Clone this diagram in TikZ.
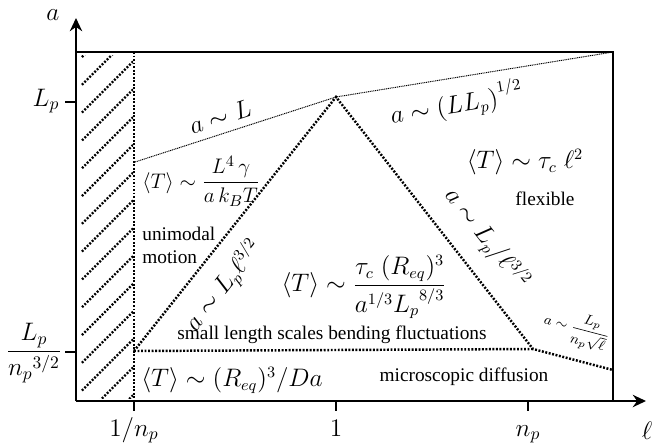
\documentclass[tikz,border=0pt]{standalone}
\usepackage{amsmath, amssymb}
\usepackage{fontspec}
\setmainfont{Liberation Serif}
\usetikzlibrary{positioning, arrows.meta}

\tikzset{
  axisline/.style={line width=1.4pt, -{Stealth[length=7.5pt, width=7pt]}},
  frameline/.style={line width=1.3pt},
  bigdots/.style={line width=1.4pt, dash pattern=on 1.1pt off 0.9pt},
  finedots/.style={line width=0.55pt, dash pattern=on 0.6pt off 0.45pt},
  ticklbl/.style={font=\fontsize{14}{16}\selectfont},
  eq/.style={font=\fontsize{13.5}{15}\selectfont},
  smalleq/.style={font=\fontsize{8.5}{10}\selectfont, inner sep=1pt},
  txt/.style={font=\fontsize{11}{13}\selectfont},
}

\begin{document}
\begin{tikzpicture}[x=0.02cm, y=-0.02cm]
  \useasboundingbox (0,0) rectangle (654,444);

  % Corners and break points (pixel grid, y downwards)
  \coordinate (O) at (76,401);
  \coordinate (ytop) at (76,18);
  \coordinate (xend) at (646,401);
  \coordinate (TL) at (76,52);
  \coordinate (TR) at (613,52);
  \coordinate (BR) at (613,401);
  \coordinate (npT) at (134,52);
  \coordinate (npB) at (134,401);
  \coordinate (peak) at (336,97);
  \coordinate (thinL) at (135,162);
  \coordinate (baseL) at (134,351);
  \coordinate (baseR) at (533,349);
  \coordinate (tailR) at (613,370);

  % Hatched strip left of 1/n_p
  \begin{scope}
    \clip (81,55) rectangle (133,398);
    \foreach \c in {0,...,14}
      \draw[bigdots, line width=1.3pt] (82,57+27.8*\c) -- ++(52,-52);
  \end{scope}

  % Axes and box
  \draw[axisline] (O) -- (ytop);
  \draw[axisline] (O) -- (xend);
  \node[ticklbl] (alab) at (53,15) {$a$};
  \node[ticklbl] (llab) at (647,431) {$\ell$};
  \draw[frameline] (TL) -- (TR) -- (BR);
  \draw[bigdots] (npT) -- (npB);

  % Ticks
  \draw[frameline] (76,102) -- (65,102);
  \draw[frameline] (76,352) -- (65,352);
  \draw[frameline] (134,401) -- (134,411);
  \draw[frameline] (336,401) -- (336,411);
  \draw[frameline] (528,401) -- (528,411);
  \node[ticklbl] (lp) at (46,101) {$L_p$};
  \node[ticklbl] (lpnp) at (34,353) {$\dfrac{L_p}{{n_p}^{3/2}}$};
  \node[ticklbl, anchor=base] (inp) at (134,436) {$1/n_p$};
  \node[ticklbl, anchor=base] (one) at (336,436) {$1$};
  \node[ticklbl, anchor=base] (np) at (528,436) {$n_p$};

  % Regime boundaries
  \draw[finedots] (thinL) -- node[eq, above=1pt, sloped, pos=0.45] (aL) {$a\sim L$}
    (peak) -- node[eq, below=2pt, sloped, pos=0.42] (aLLp) {$a\sim \left(LL_p\right)^{1/2}$} (TR);
  \draw[bigdots] (baseL) -- node[eq, below=5pt, sloped, pos=0.33] (aleft) {$a\sim L_p\ell^{3/2}$}
    (peak) -- node[eq, above=6pt, sloped, pos=0.64] (aright) {$a\sim L_p/\ell^{3/2}$}
    (baseR) -- node[smalleq, above=5pt, sloped, pos=0.45] (atail) {$a\sim \dfrac{L_p}{n_p\sqrt{\ell}}$} (tailR);
  \draw[bigdots] (baseL) -- (baseR);

  % Regime labels
  \node[eq, font=\fontsize{13}{14}\selectfont, anchor=west, inner sep=0pt] (Tstiff) at (142,181) {$\langle T\rangle \sim \dfrac{L^4\,\gamma}{a\,k_BT}$};
  \node[txt, align=left, anchor=west, inner sep=0pt] (uni) at (142,245) {unimodal\\motion};
  \node[eq] (Tmid) at (364,287) {$\langle T\rangle \sim \dfrac{\tau_c\;(R_{eq})^3}{a^{1/3}{L_p}^{8/3}}$};
  \node[eq] (Tflex) at (525,162) {$\langle T\rangle \sim \tau_c\;\ell^2$};
  \node[txt] (flex) at (545,199) {flexible};
  \node[txt] (bend) at (332,335) {small length scales bending fluctuations};
  \node[eq] (Tdiff) at (232,380) {$\langle T\rangle \sim (R_{eq})^3/Da$};
  \node[txt] (micro) at (464,377) {microscopic diffusion};
\end{tikzpicture}
\end{document}
